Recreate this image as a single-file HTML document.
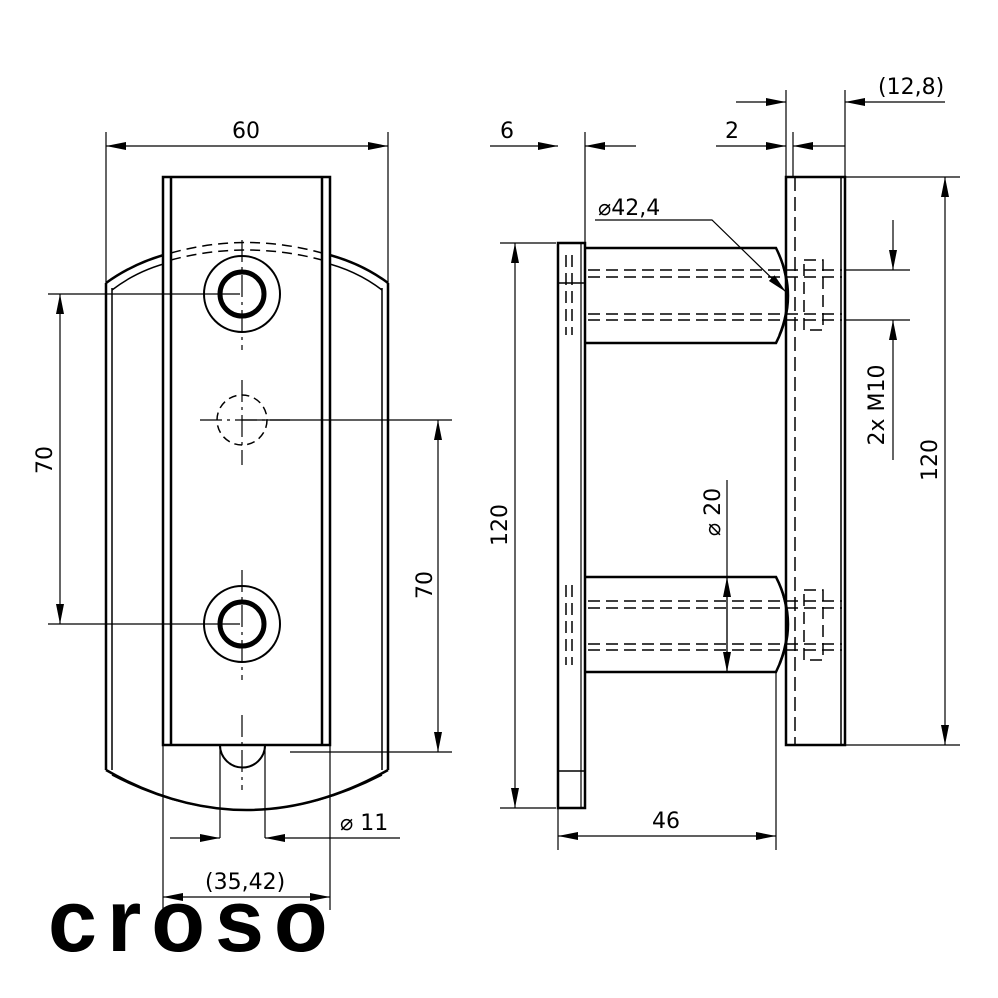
<!DOCTYPE html>
<html><head><meta charset="utf-8"><style>body{margin:0;background:#fff}svg{display:block}text{font-family:"DejaVu Sans","Liberation Sans",sans-serif;font-size:22px;fill:#000}</style></head><body>
<svg width="998" height="998" viewBox="0 0 998 998" xmlns="http://www.w3.org/2000/svg">
<defs><marker id="a" viewBox="0 0 20 8" refX="20" refY="4" markerWidth="20" markerHeight="8" markerUnits="userSpaceOnUse" orient="auto-start-reverse"><path d="M0,0L20,4L0,8z"/></marker></defs>
<g fill="none" stroke="#000" stroke-width="2.5">
<!-- left view plate -->
<path d="M106,283V770M388,283V770"/>
<path d="M112,288V770M382,288V770" stroke-width="1.5"/>
<path d="M106,283Q135,262 171,253M322,253Q360,262 388,283"/>
<path d="M112,290Q138,270 171,262M322,262Q356,270 382,290" stroke-width="1.5"/>
<path d="M106,770Q246,850 388,770" />
<path d="M112,775Q246,845 382,775" stroke-width="1.5"/>
<!-- strip -->
<path d="M163,177H330V745H163Z" fill="#fff"/>
<path d="M171,177V745M322,177V745"/>
<path d="M171,253Q246,232 322,253M171,260Q246,240 322,260" stroke-dasharray="10,6" stroke-width="1.5"/>
<!-- holes -->
<circle cx="242" cy="294" r="38" stroke-width="2"/><circle cx="242" cy="294" r="22" stroke-width="5"/>
<circle cx="242" cy="624" r="38" stroke-width="2"/><circle cx="242" cy="624" r="22" stroke-width="5"/>
<circle cx="242" cy="420" r="25" stroke-width="1.5" stroke-dasharray="8,5"/>
<path d="M265,745A22,22 0 1 1 220,745" stroke-width="2"/>
<path d="M220,745V838M265,745V838" stroke-width="1.2"/>
<!-- center lines -->
<g stroke-width="1.2" stroke-dasharray="22,5,3,5">
<path d="M242,240V350M242,380V465M242,570V680M242,715V790M200,420H290"/>
</g>
<!-- dims left -->
<g stroke-width="1.2">
<path d="M106,283V132M388,283V132M163,745V910M330,745V910"/>
<path d="M48,294H240M48,624H240M242,420H452M290,752H452"/>
<path d="M106,146H388" marker-start="url(#a)" marker-end="url(#a)"/>
<path d="M60,294V624" marker-start="url(#a)" marker-end="url(#a)"/>
<path d="M438,420V752" marker-start="url(#a)" marker-end="url(#a)"/>
<path d="M170,838H220" marker-end="url(#a)"/><path d="M400,838H265" marker-end="url(#a)"/>
<path d="M163,897H330" marker-start="url(#a)" marker-end="url(#a)"/>
</g>
<!-- right view plate 1 -->
<path d="M558,243H585V808H558Z"/>
<path d="M558,283H585M558,771H585" stroke-width="1.5"/>
<path d="M581,243V808" stroke-width="1.2"/>
<!-- pins -->
<path d="M585,248H776Q800,296 776,343H585"/>
<path d="M585,577H776Q800,624 776,672H585"/>
<path d="M779,255Q795,296 779,335M779,584Q795,624 779,664" stroke-width="1.5"/>
<g stroke-width="1.5" stroke-dasharray="12,6">
<path d="M588,270H842M588,277H842M588,314H842M588,320H842"/>
<path d="M588,601H842M588,608H842M588,644H842M588,650H842"/>
<path d="M804,260H823V330H804ZM804,590H823V660H804Z"/>
<path d="M566,255V335M572,255V335M566,585V665M572,585V665"/>
</g>
<!-- plate 2 -->
<path d="M786,177H845V745H786Z"/>
<path d="M841,177V745" stroke-width="1.5"/>
<path d="M795,177V745" stroke-width="1.5" stroke-dasharray="14,6"/>
<!-- dims right -->
<g stroke-width="1.2">
<path d="M558,243V850M585,132V243M776,672V850M786,90V177M845,90V177"/>
<path d="M500,243H556M500,808H556M845,177H960M845,745H960M845,270H910M845,320H910"/>
<path d="M490,146H558" marker-end="url(#a)"/><path d="M636,146H585" marker-end="url(#a)"/>
<path d="M716,146H786" marker-end="url(#a)"/><path d="M845,146H793" marker-end="url(#a)"/>
<path d="M793,132V177"/>
<path d="M736,102H786" marker-end="url(#a)"/><path d="M945,102H845" marker-end="url(#a)"/>
<path d="M515,243V808" marker-start="url(#a)" marker-end="url(#a)"/>
<path d="M945,177V745" marker-start="url(#a)" marker-end="url(#a)"/>
<path d="M893,220V270" marker-end="url(#a)"/><path d="M893,460V320" marker-end="url(#a)"/>
<path d="M727,480V672" /><path d="M727,624V577" marker-end="url(#a)"/><path d="M727,624V672" marker-end="url(#a)"/>
<path d="M558,836H776" marker-start="url(#a)" marker-end="url(#a)"/>
<path d="M595,220H712L786,292" marker-end="url(#a)"/>
</g>
</g>
<text x="232" y="138">60</text>
<text transform="translate(52,460) rotate(-90)" text-anchor="middle">70</text>
<text transform="translate(432,585) rotate(-90)" text-anchor="middle">70</text>
<text x="340" y="830">⌀ 11</text>
<text x="205" y="889">(35,42)</text>
<text x="500" y="138">6</text>
<text x="725" y="138">2</text>
<text x="878" y="94">(12,8)</text>
<text x="598" y="215">⌀42,4</text>
<text transform="translate(507,525) rotate(-90)" text-anchor="middle">120</text>
<text transform="translate(937,460) rotate(-90)" text-anchor="middle">120</text>
<text transform="translate(884,405) rotate(-90)" text-anchor="middle">2x M10</text>
<text transform="translate(720,512) rotate(-90)" text-anchor="middle">⌀ 20</text>
<text x="652" y="828">46</text>
<text x="48" y="951" style="font-family:'Liberation Sans',sans-serif;font-size:88px;font-weight:bold;letter-spacing:10px">croso</text>
</svg>
</body></html>
